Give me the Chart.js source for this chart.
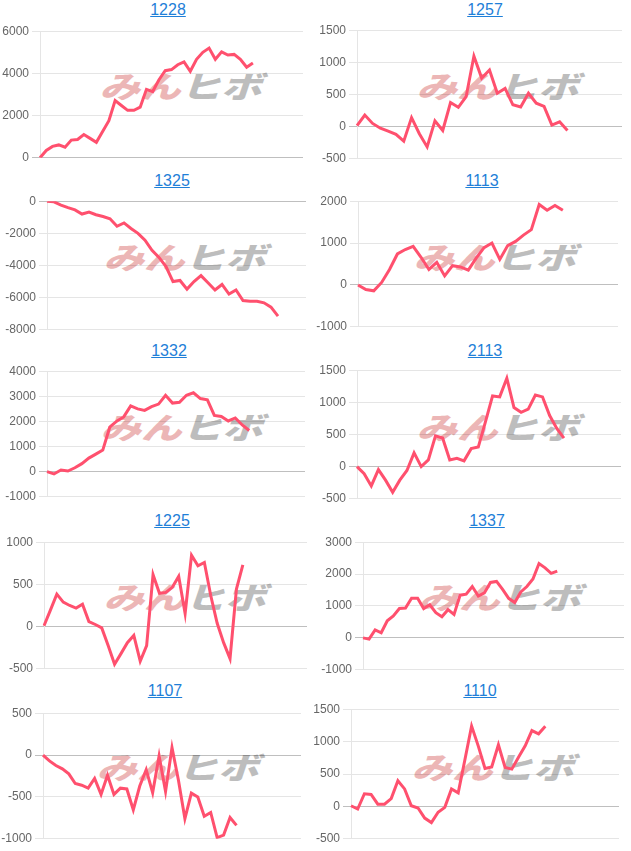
<!DOCTYPE html>
<html>
<head>
<meta charset="utf-8">
<script src="https://cdn.jsdelivr.net/npm/chart.js@4.4.0/dist/chart.umd.min.js"></script>
<style>
  body { margin: 0; background: #fff; font-family: "Liberation Sans", Arial, sans-serif; }
  #page { position: relative; width: 631px; height: 851px; overflow: hidden; }
  .ttl { position: absolute; width: 100px; margin-left: -50px; text-align: center;
         font-size: 16px; line-height: 18px; color: #1f7fd8; text-decoration: underline; cursor: pointer; }
  .wm { position: absolute; width: 120px; margin-left: -60px; height: 36px; text-align: center;
        font-family: "Noto Sans CJK JP"; font-weight: 900; font-size: 30px; line-height: 36px;
        white-space: nowrap; transform: scaleX(1.35) skewX(-14deg); }
  .wm .a { color: #ecb6b6; }
  .wm .b { color: #bdbdbd; }
  canvas { position: absolute; }
</style>
</head>
<body>
<div id="page"></div>
<script>
  // stock codes shown above each chart
  const titles = ["1228", "1257", "1325", "1113", "1332", "2113", "1225", "1337", "1107", "1110"];

  // hidden x categories per chart (the line stops before the right edge)
  const slots = [43, 35, 38, 34, 38, 38, 42, 44, 41, 41];

  // y axis ticks
  const yMin = [0, -500, -8000, -1000, -1000, -500, -500, -1000, -1000, -500];
  const yMax = [6000, 1500, 0, 2000, 4000, 1500, 1000, 3000, 500, 1500];
  const yStep = [2000, 500, 2000, 1000, 1000, 500, 500, 1000, 500, 500];

  const s1228 = [0, 350, 540, 610, 500, 840, 870, 1100, 920, 735, 1250, 1760, 2710, 2480, 2250, 2250, 2400, 3245, 3140, 3700, 4130, 4180, 4410, 4545, 4100, 4670, 5000, 5200, 4670, 5020, 4870, 4900, 4670, 4290, 4490];
  const s1257 = [15, 180, 50, -25, -70, -120, -225, 140, -110, -315, 90, -60, 375, 300, 465, 1095, 755, 880, 520, 595, 340, 305, 520, 365, 315, 25, 75, -60];
  const s1325 = [0, -40, -240, -400, -540, -800, -680, -840, -950, -1090, -1560, -1350, -1700, -2000, -2420, -3060, -3500, -4070, -5000, -4930, -5470, -5000, -4630, -5070, -5520, -5180, -5780, -5520, -6180, -6220, -6220, -6320, -6590, -7150];
  const s1113 = [0, -110, -140, 60, 370, 740, 845, 920, 660, 370, 540, 215, 460, 430, 355, 640, 890, 1000, 610, 940, 1040, 1190, 1320, 1920, 1785, 1900, 1785];
  const s1332 = [0, -90, 65, 25, 155, 320, 540, 700, 860, 1770, 2010, 2180, 2620, 2500, 2440, 2590, 2690, 3040, 2730, 2760, 3040, 3140, 2910, 2860, 2240, 2200, 2020, 2140, 1860, 1640];
  const s2113 = [0, -110, -300, -45, -210, -400, -210, -60, 215, 0, 105, 480, 445, 105, 130, 90, 280, 305, 695, 1100, 1085, 1375, 920, 845, 895, 1115, 1085, 795, 595, 445];
  const s1225 = [10, 195, 385, 290, 250, 220, 265, 60, 25, -15, -225, -445, -320, -190, -105, -410, -225, 615, 395, 405, 465, 595, 155, 845, 720, 760, 365, 40, -190, -380, 445, 730];
  const s1337 = [0, -40, 250, 160, 535, 685, 920, 935, 1245, 1245, 920, 1040, 790, 665, 885, 735, 1340, 1370, 1610, 1310, 1410, 1740, 1770, 1520, 1240, 1110, 1440, 1610, 1845, 2330, 2195, 2025, 2095];
  const s1107 = [0, -70, -125, -165, -225, -340, -360, -395, -280, -470, -240, -470, -395, -405, -655, -370, -175, -450, -10, -435, 90, -300, -760, -455, -500, -730, -685, -985, -955, -745, -840];
  const s1110 = [10, -40, 195, 185, 35, 35, 120, 395, 270, 10, -25, -180, -250, -90, -15, 270, 210, 720, 1240, 930, 585, 610, 950, 600, 575, 760, 935, 1170, 1120, 1235];

  const series = [s1228, s1257, s1325, s1113, s1332, s2113, s1225, s1337, s1107, s1110];

  // plot area of each chart on the page: left, top, right, bottom
  const areas = [
    [40, 29, 303, 160], [357, 28, 622, 161],
    [47, 199, 306, 332], [358, 199, 618, 329],
    [47, 369, 305, 499], [357, 368, 621, 501],
    [44, 540, 307, 671], [363, 540, 624, 672],
    [43, 711, 301, 841], [351, 707, 619, 841]
  ];
  // title centre x and cap top y
  const heads = [
    [168, 5], [485, 5], [172, 176], [482, 176], [169, 346],
    [485, 346], [172, 516], [487, 516], [165, 686], [480, 686]
  ];

  const AXIS_W = 47;
  const PAD = 8;
  const page = document.getElementById("page");

  titles.forEach((t, i) => {
    const [hx, hy] = heads[i];
    const a = document.createElement("a");
    a.className = "ttl";
    a.textContent = t;
    a.style.left = hx + "px";
    a.style.top = (hy - 4) + "px";
    page.appendChild(a);

    const wm = document.createElement("div");
    wm.className = "wm";
    wm.innerHTML = '<span class="a">みん</span><span class="b">ヒボ</span>';
    wm.style.left = (hx + 17) + "px";
    wm.style.top = (hy - 5 + 86 - 19) + "px";
    page.appendChild(wm);

    const [l, tp, r, b] = areas[i];
    const cv = document.createElement("canvas");
    const left = l - AXIS_W;
    cv.width = r - left + 2;
    cv.height = b - tp + PAD * 2;
    cv.style.left = left + "px";
    cv.style.top = (tp - PAD) + "px";
    page.appendChild(cv);

    const labels = Array.from({ length: slots[i] }, (_, k) => k + 1);

    new Chart(cv, {
      type: "line",
      data: {
        labels: labels,
        datasets: [{
          data: series[i],
          borderColor: "rgb(255, 80, 110)",
          borderWidth: 3,
          pointRadius: 0,
          fill: false,
          tension: 0
        }]
      },
      options: {
        responsive: false,
        animation: false,
        layout: { padding: { top: PAD, bottom: PAD, left: 0, right: 2 } },
        plugins: { legend: { display: false }, tooltip: { enabled: false } },
        scales: {
          x: { display: false },
          y: {
            min: yMin[i],
            max: yMax[i],
            afterFit: (s) => { s.width = AXIS_W; },
            ticks: {
              stepSize: yStep[i],
              color: "#666",
              font: { size: 12, family: "'Liberation Sans', Arial, sans-serif" },
              callback: (v) => String(v)
            },
            grid: {
              tickLength: 8,
              color: (c) => (c.tick && c.tick.value === 0 ? "rgba(0,0,0,0.25)" : "rgba(0,0,0,0.1)")
            },
            border: { color: "rgba(0,0,0,0.1)" }
          }
        }
      }
    });
  });
</script>
</body>
</html>
